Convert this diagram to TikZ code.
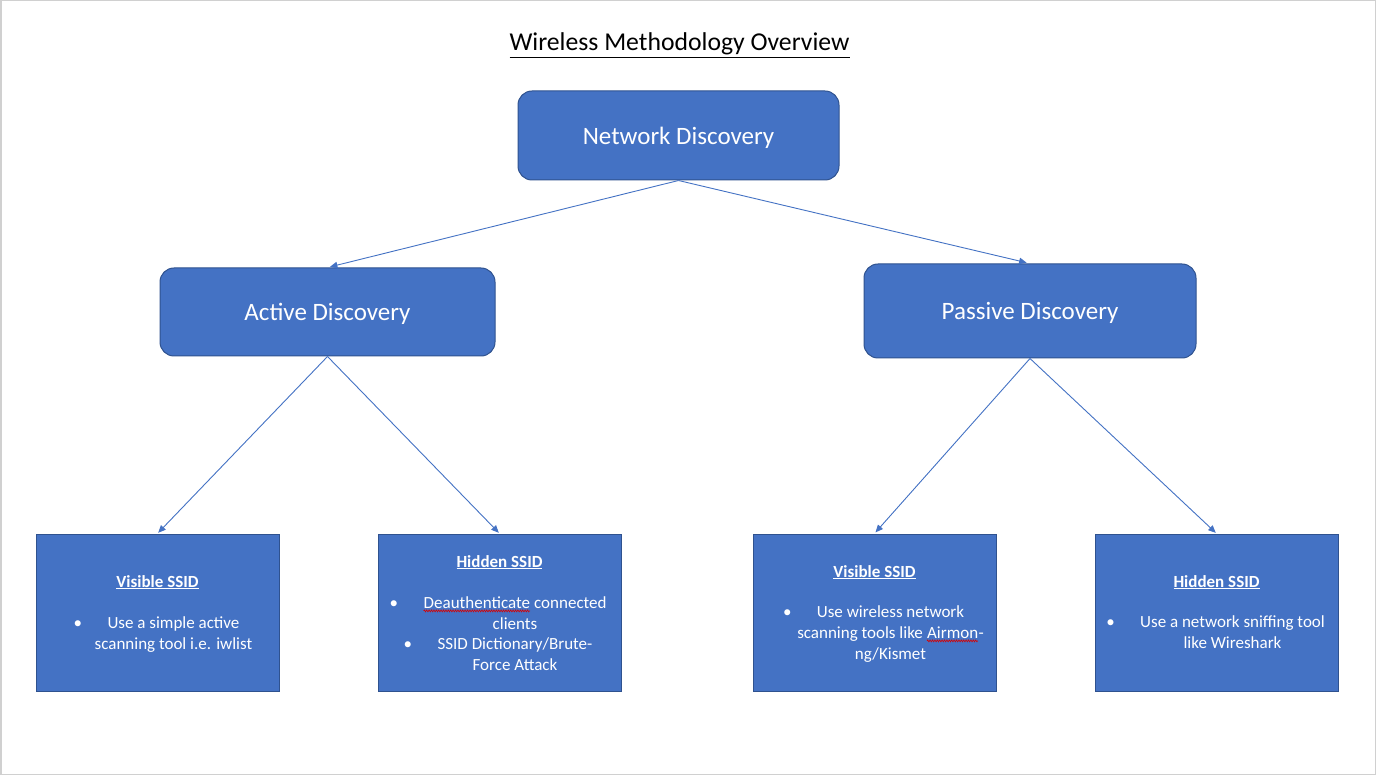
\documentclass[tikz,border=0pt]{standalone}
\usepackage{fontspec}
\setmainfont{Carlito}
\usetikzlibrary{arrows.meta,decorations.pathmorphing}
\definecolor{boxfill}{HTML}{4472C4}
\definecolor{boxedge}{HTML}{2F528F}
\definecolor{frame}{HTML}{D0D0D0}
\newcommand\squig[1]{\tikz[baseline=(s.base)]{\node[inner sep=0pt,outer sep=0pt,text=white] (s) {#1};\draw[red!85!black,line width=0.6pt,decorate,decoration={zigzag,amplitude=1pt,segment length=2.4pt}] ([yshift=-2.4pt]s.base west) -- ([yshift=-2.4pt]s.base east);}}
\tikzset{
  rbox/.style={rectangle,rounded corners=14pt,fill=boxfill,draw=boxedge,line width=1pt,text=white,font=\fontsize{25}{30}\selectfont,inner sep=0pt,text depth=0pt},
  leafbox/.style={rectangle,fill=boxfill,draw=boxedge,line width=1pt,minimum width=243pt,minimum height=157pt,inner sep=0pt},
  head/.style={anchor=base,text=white,inner sep=0pt,font=\fontsize{17}{20}\selectfont\bfseries},
  body/.style={anchor=base,text=white,inner sep=0pt,font=\fontsize{17}{20.5}\selectfont},
  bul/.style={anchor=base east,text=white,inner sep=0pt,font=\fontsize{17}{20.5}\selectfont},
  conn/.style={draw=boxfill,line width=0.9pt,-{Triangle[length=7.5pt,width=6.5pt]}}
}
\begin{document}
\begin{tikzpicture}[x=1pt,y=-1pt]
\useasboundingbox (0,0) rectangle (1376,775);
\fill[white] (0,0) rectangle (1376,775);
\draw[frame,line width=1.5pt] (0.75,0.75) rectangle (1375.25,774.25);

% title
\node[anchor=base,inner sep=0pt,font=\fontsize{25.7}{30}\selectfont] (title) at (679.5,51) {\underline{Wireless Methodology Overview}};

% main boxes
\node[rbox,minimum width=321pt,minimum height=89pt] (nd) at (678.5,135.5) {Network Discovery};
\node[rbox,minimum width=335pt,minimum height=88pt] (ad) at (327.5,312) {Active Discovery};
\node[rbox,minimum width=332pt,minimum height=94pt] (pd) at (1030,311) {Passive Discovery};

% leaf boxes
\node[leafbox] (b1) at (157.5,612.5) {};
\node[leafbox] (b2) at (499.5,612.5) {};
\node[leafbox] (b3) at (874.5,612.5) {};
\node[leafbox] (b4) at (1216.5,612.5) {};

% box 1
\node[head] (h1) at (157.5,587) {\underline{Visible SSID}};
\node[body] (l11) at (173.5,628) {Use a simple active};
\node[body] (l12) at (173.5,649) {scanning tool i.e. iwlist};
\node[bul] (u11) at ([xshift=-25pt]l11.base west) {•};

% box 2
\node[head] (h2) at (499.5,567) {\underline{Hidden SSID}};
\node[body] (l21) at (515,608.5) {\squig{Deauthenticate} connected};
\node[body] (l22) at (515,629) {clients};
\node[body] (l23) at (515,649.5) {SSID Dictionary/Brute-};
\node[body] (l24) at (515,670) {Force Attack};
\node[bul] (u21) at ([xshift=-25pt]l21.base west) {•};
\node[bul] (u22) at ([xshift=-25pt]l23.base west) {•};

% box 3
\node[head] (h3) at (874.5,577) {\underline{Visible SSID}};
\node[body] (l31) at (890.5,617.5) {Use wireless network};
\node[body] (l32) at (890.5,638.5) {scanning tools like \squig{Airmon}-};
\node[body] (l33) at (890.5,659) {ng/Kismet};
\node[bul] (u31) at ([xshift=-25pt]l31.base west) {•};

% box 4
\node[head] (h4) at (1216.5,587) {\underline{Hidden SSID}};
\node[body] (l41) at (1232.5,627.5) {Use a network sniffing tool};
\node[body] (l42) at (1232.5,648.5) {like Wireshark};
\node[bul] (u41) at ([xshift=-25pt]l41.base west) {•};

% connectors
\draw[conn,shorten >=2.5pt] (nd.south) -- (ad.north);
\draw[conn,shorten >=3.5pt] (nd.south) -- (pd.north);
\draw[conn,shorten >=1pt] (ad.south) -- (b1.north);
\draw[conn,shorten >=1pt] (ad.south) -- (b2.north);
\draw[conn,shorten >=1.5pt] (pd.south) -- (b3.north);
\draw[conn,shorten >=1pt] (pd.south) -- (b4.north);
\end{tikzpicture}
\end{document}
